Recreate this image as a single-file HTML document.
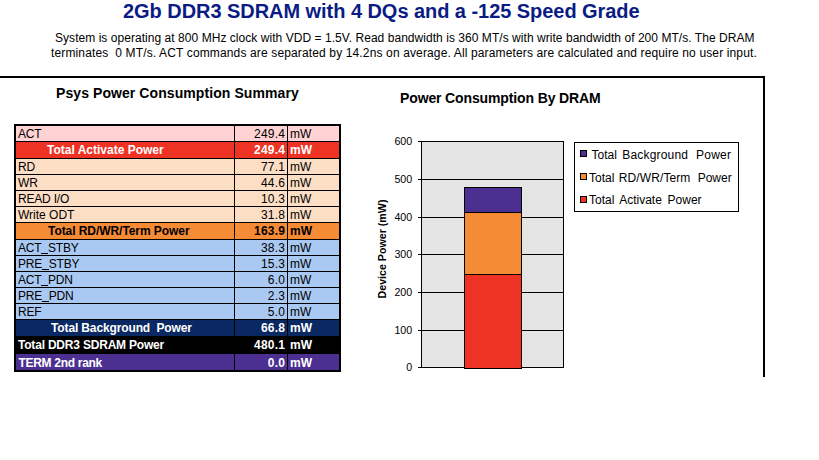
<!DOCTYPE html>
<html><head><meta charset="utf-8">
<style>
*{margin:0;padding:0;box-sizing:border-box}
html,body{width:819px;height:460px;background:#fff;overflow:hidden}
body{position:relative;font-family:"Liberation Sans",sans-serif;color:#000}
.a{position:absolute;white-space:pre}
.t{position:absolute;white-space:pre;font-size:12px;line-height:14px}
.b{font-weight:bold}
.hl{position:absolute;background:#000;height:1px}
.vl{position:absolute;background:#000;width:1px}
.us{display:inline-block;width:6.67px;height:1px;background:#000;vertical-align:-2px}
.row{position:absolute;left:16px;width:323px}
</style></head><body>
<!-- header -->
<div class="a b" id="title" style="left:123px;top:0px;font-size:20px;line-height:22px;letter-spacing:-0.05px;color:#0A1C84;transform:scaleY(1.055);transform-origin:0 17.85px">2Gb DDR3 SDRAM with 4 DQs and a -125 Speed Grade</div>
<div class="t" id="sub1" style="left:55px;top:31px;letter-spacing:0.045px">System is operating at 800 MHz clock with VDD = 1.5V. Read bandwidth is 360 MT/s with write bandwidth of 200 MT/s. The DRAM</div>
<div class="t" id="sub2" style="left:51px;top:46px;letter-spacing:0.137px">terminates  0 MT/s. ACT commands are separated by 14.2ns on average. All parameters are calculated and require no user input.</div>

<div class="hl" style="left:0;top:76px;width:765px;height:2px"></div>
<div class="vl" style="left:763px;top:76px;width:2px;height:301px"></div>

<div class="a b" id="psys" style="left:56px;top:86px;font-size:14px;line-height:15px;letter-spacing:0.08px">Psys Power Consumption Summary</div>

<!-- table -->
<div id="tbl">
<div class="row" style="top:126px;height:15px;background:#FFD3D3"></div>
<div class="row" style="top:142px;height:16px;background:#EE3325"></div>
<div class="row" style="top:159px;height:63px;background:#FCDEC5"></div>
<div class="row" style="top:223px;height:16px;background:#F68B36"></div>
<div class="row" style="top:240px;height:79px;background:#A9C9F2"></div>
<div class="row" style="top:320px;height:16px;background:#0A2861"></div>
<div class="row" style="top:336px;height:18px;background:#000"></div>
<div class="row" style="top:354px;height:16px;background:#4B3092"></div>
<!-- row lines -->
<div class="hl" style="left:16px;width:323px;top:141px"></div>
<div class="hl" style="left:16px;width:323px;top:158px"></div>
<div class="hl" style="left:16px;width:323px;top:174px"></div>
<div class="hl" style="left:16px;width:323px;top:190px"></div>
<div class="hl" style="left:16px;width:323px;top:206px"></div>
<div class="hl" style="left:16px;width:323px;top:222px"></div>
<div class="hl" style="left:16px;width:323px;top:239px"></div>
<div class="hl" style="left:16px;width:323px;top:255px"></div>
<div class="hl" style="left:16px;width:323px;top:271px"></div>
<div class="hl" style="left:16px;width:323px;top:287px"></div>
<div class="hl" style="left:16px;width:323px;top:303px"></div>
<div class="hl" style="left:16px;width:323px;top:319px"></div>
<div class="hl" style="left:16px;width:323px;top:336px"></div>
<div class="hl" style="left:16px;width:323px;top:353px"></div>
<!-- col lines -->
<div class="vl" style="left:234px;top:126px;height:244px"></div>
<div class="vl" style="left:287px;top:126px;height:244px"></div>
<!-- outer border -->
<div class="a" style="left:14px;top:124px;width:327px;height:248px;border:2px solid #000"></div>

<!-- labels -->
<div class="t" style="letter-spacing:-0.2px;left:18px;top:127px">ACT</div>
<div class="t b" style="left:47px;top:143px;color:#fff">Total Activate Power</div>
<div class="t" style="letter-spacing:-0.2px;left:18px;top:160px">RD</div>
<div class="t" style="letter-spacing:-0.2px;left:18px;top:176px">WR</div>
<div class="t" style="letter-spacing:-0.2px;left:18px;top:192px">READ I/O</div>
<div class="t" style="left:18px;top:208px">Write ODT</div>
<div class="t b" style="left:48px;top:224px;letter-spacing:-0.06px">Total RD/WR/Term Power</div>
<div class="t" style="letter-spacing:-0.2px;left:18px;top:241px">ACT<span class="us"></span>STBY</div>
<div class="t" style="letter-spacing:-0.2px;left:18px;top:257px">PRE<span class="us"></span>STBY</div>
<div class="t" style="letter-spacing:-0.2px;left:18px;top:273px">ACT<span class="us"></span>PDN</div>
<div class="t" style="letter-spacing:-0.2px;left:18px;top:289px">PRE<span class="us"></span>PDN</div>
<div class="t" style="letter-spacing:-0.2px;left:18px;top:305px">REF</div>
<div class="t b" style="left:51px;top:321px;color:#fff;letter-spacing:-0.13px">Total Background  Power</div>
<div class="t b" style="left:18px;top:338px;color:#fff;letter-spacing:-0.2px">Total DDR3 SDRAM Power</div>
<div class="t b" style="left:18.5px;top:356px;color:#fff;letter-spacing:-0.3px">TERM 2nd rank</div>

<!-- values -->
<div class="t" style="right:533.75px;letter-spacing:0.25px;top:127px">249.4</div>
<div class="t b" style="right:533.75px;letter-spacing:0.25px;top:143px;color:#fff">249.4</div>
<div class="t" style="right:533.75px;letter-spacing:0.25px;top:160px">77.1</div>
<div class="t" style="right:533.75px;letter-spacing:0.25px;top:176px">44.6</div>
<div class="t" style="right:533.75px;letter-spacing:0.25px;top:192px">10.3</div>
<div class="t" style="right:533.75px;letter-spacing:0.25px;top:208px">31.8</div>
<div class="t b" style="right:533.75px;letter-spacing:0.25px;top:224px">163.9</div>
<div class="t" style="right:533.75px;letter-spacing:0.25px;top:241px">38.3</div>
<div class="t" style="right:533.75px;letter-spacing:0.25px;top:257px">15.3</div>
<div class="t" style="right:533.75px;letter-spacing:0.25px;top:273px">6.0</div>
<div class="t" style="right:533.75px;letter-spacing:0.25px;top:289px">2.3</div>
<div class="t" style="right:533.75px;letter-spacing:0.25px;top:305px">5.0</div>
<div class="t b" style="right:533.75px;letter-spacing:0.25px;top:321px;color:#fff">66.8</div>
<div class="t b" style="right:533.75px;letter-spacing:0.25px;top:338px;color:#fff">480.1</div>
<div class="t b" style="right:533.75px;letter-spacing:0.25px;top:356px;color:#fff">0.0</div>

<!-- units -->
<div class="t" style="left:290px;top:127px">mW</div>
<div class="t b" style="left:290px;top:143px;color:#fff">mW</div>
<div class="t" style="left:290px;top:160px">mW</div>
<div class="t" style="left:290px;top:176px">mW</div>
<div class="t" style="left:290px;top:192px">mW</div>
<div class="t" style="left:290px;top:208px">mW</div>
<div class="t b" style="left:290px;top:224px">mW</div>
<div class="t" style="left:290px;top:241px">mW</div>
<div class="t" style="left:290px;top:257px">mW</div>
<div class="t" style="left:290px;top:273px">mW</div>
<div class="t" style="left:290px;top:289px">mW</div>
<div class="t" style="left:290px;top:305px">mW</div>
<div class="t b" style="left:290px;top:321px;color:#fff">mW</div>
<div class="t b" style="left:290px;top:338px;color:#fff">mW</div>
<div class="t b" style="left:290px;top:356px;color:#fff">mW</div>
</div>

<!-- chart -->
<div class="a b" id="ctitle" style="left:400px;top:91px;font-size:14px;line-height:15px;letter-spacing:-0.13px">Power Consumption By DRAM</div>
<svg class="a" style="left:0;top:0" width="819" height="460" shape-rendering="crispEdges">
  <rect x="421" y="141" width="142" height="226" fill="#E4E4E4"/>
  <g fill="#000">
    <rect x="418" y="141" width="146" height="1"/>
    <rect x="418" y="179" width="146" height="1"/>
    <rect x="418" y="217" width="146" height="1"/>
    <rect x="418" y="254" width="146" height="1"/>
    <rect x="418" y="292" width="146" height="1"/>
    <rect x="418" y="330" width="146" height="1"/>
    <rect x="418" y="367" width="146" height="1"/>
    <rect x="421" y="141" width="1" height="227"/>
    <rect x="563" y="141" width="1" height="227"/>
  </g>
  <!-- bar -->
  <rect x="464" y="187" width="58" height="182" fill="#000"/>
  <rect x="465" y="188" width="56" height="24" fill="#4B2F91"/>
  <rect x="465" y="213" width="56" height="61" fill="#F58B35"/>
  <rect x="465" y="275" width="56" height="93" fill="#EE3325"/>
  <!-- legend -->
  <rect x="574.5" y="142.5" width="164" height="69" fill="#fff" stroke="#000" stroke-width="1"/>
  <rect x="580" y="150" width="7" height="7" fill="#000"/>
  <rect x="581" y="151" width="5" height="5" fill="#4B2F91"/>
  <rect x="580" y="173" width="7" height="7" fill="#000"/>
  <rect x="581" y="174" width="5" height="5" fill="#F58B35"/>
  <rect x="580" y="196" width="7" height="7" fill="#000"/>
  <rect x="581" y="197" width="5" height="5" fill="#EE3325"/>
</svg>
<div class="t" style="left:591.5px;top:148px">Total</div>
<div class="t" style="left:622.2px;top:148px;letter-spacing:0.2px">Background</div>
<div class="t" style="left:696px;top:148px;letter-spacing:0.25px">Power</div>
<div class="t" style="left:589.1px;top:171px">Total</div>
<div class="t" style="left:618.8px;top:171px;letter-spacing:0.1px">RD/WR/Term</div>
<div class="t" style="left:697.7px;top:171px">Power</div>
<div class="t" style="left:589.1px;top:193px">Total</div>
<div class="t" style="left:619.2px;top:193px">Activate</div>
<div class="t" style="left:667.6px;top:193px">Power</div>

<!-- y axis labels -->
<div class="a" style="right:406.8px;top:135px;font-size:10.67px;line-height:12px">600</div>
<div class="a" style="right:406.8px;top:173px;font-size:10.67px;line-height:12px">500</div>
<div class="a" style="right:406.8px;top:211px;font-size:10.67px;line-height:12px">400</div>
<div class="a" style="right:406.8px;top:248px;font-size:10.67px;line-height:12px">300</div>
<div class="a" style="right:406.8px;top:286px;font-size:10.67px;line-height:12px">200</div>
<div class="a" style="right:406.8px;top:324px;font-size:10.67px;line-height:12px">100</div>
<div class="a" style="right:406.8px;top:361px;font-size:10.67px;line-height:12px">0</div>
<div class="a b" style="left:382px;top:249px;font-size:10.67px;line-height:12px;transform:translate(-50%,-50%) rotate(-90deg)">Device Power (mW)</div>
</body></html>
